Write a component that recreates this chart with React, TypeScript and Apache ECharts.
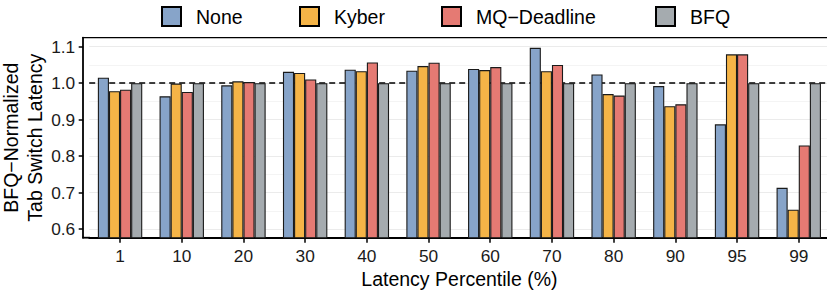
import React, { useEffect, useRef } from "react";
import * as echarts from "echarts";

const categories = ["1", "10", "20", "30", "40", "50", "60", "70", "80", "90", "95", "99"];
const seriesNames = ["None", "Kyber", "MQ\u2212Deadline", "BFQ"];
const noneValues = [1.015, 0.964, 0.994, 1.031, 1.037, 1.034, 1.039, 1.097, 1.024, 0.992, 0.887, 0.713];
const kyberValues = [0.978, 0.999, 1.005, 1.028, 1.033, 1.047, 1.036, 1.033, 0.970, 0.937, 1.079, 0.653];
const mqValues = [0.982, 0.976, 1.003, 1.010, 1.057, 1.056, 1.044, 1.050, 0.966, 0.942, 1.079, 0.829];
const bfqValues = [1, 1, 1, 1, 1, 1, 1, 1, 1, 1, 1, 1];
const colors = ["#87A4C9", "#F5B447", "#E57A73", "#A5ABAF"];
const majorTicks = [0.6, 0.7, 0.8, 0.9, 1.0, 1.1];
const minorTicks = [0.65, 0.75, 0.85, 0.95, 1.05];
const referenceLine = [1.0];
const yMin = 0.5761;
const yMax = 1.1247;

const FONT = "Liberation Sans";

export default function App() {
  const ref = useRef<HTMLDivElement>(null);
  useEffect(() => {
    if (!ref.current) return;
    const chart = echarts.init(ref.current, undefined, { renderer: "svg" });
    const allValues = [noneValues, kyberValues, mqValues, bfqValues];
    const legendLefts = [161, 299, 441, 655];
    const hiddenAxis = (vals: number[], lineStyle: any) => ({
      type: "value",
      min: yMin,
      max: yMax,
      position: "left",
      offset: 6,
      axisLine: { show: false },
      axisLabel: { show: false },
      axisTick: { show: false, customValues: vals },
      splitLine: { show: true, lineStyle },
    });
    chart.setOption({
      animation: false,
      backgroundColor: "#ffffff",
      textStyle: { fontFamily: FONT },
      grid: {
        left: 89.2,
        right: -2.6,
        top: 37.7,
        bottom: 54.3,
        containLabel: false,
        outerBoundsMode: "none",
      },
      legend: seriesNames.map((n, i) => ({
        data: [n],
        left: legendLefts[i],
        top: 6,
        padding: 0,
        itemWidth: 19,
        itemHeight: 19,
        icon: "rect",
        selectedMode: false,
        itemStyle: { borderColor: "#000000", borderWidth: 2 },
        textStyle: { fontFamily: FONT, fontSize: 19.5, color: "#000000", padding: [0, 0, 0, 10] },
      })),
      xAxis: {
        type: "category",
        data: categories,
        axisLine: { show: true, lineStyle: { color: "#000000", width: 1.8 } },
        axisTick: { show: true, alignWithLabel: true, length: 5, lineStyle: { color: "#000000", width: 1.5 } },
        axisLabel: { fontFamily: FONT, fontSize: 17.3, color: "#1a1a1a", margin: 9.5 },
        name: "Latency Percentile (%)",
        nameLocation: "middle",
        nameGap: 31.5,
        nameMoveOverlap: false,
        nameTextStyle: { fontFamily: FONT, fontSize: 19.5, color: "#000000" },
        splitLine: { show: false },
      },
      yAxis: [
        {
          type: "value",
          min: yMin,
          max: yMax,
          position: "left",
          offset: 6,
          axisLine: { show: true, lineStyle: { color: "#000000", width: 1.8 } },
          axisTick: { show: true, length: 4.5, customValues: majorTicks, lineStyle: { color: "#000000", width: 1.5 } },
          axisLabel: {
            customValues: majorTicks,
            formatter: (v: number) => v.toFixed(1),
            fontFamily: FONT,
            fontSize: 17.3,
            color: "#1a1a1a",
            margin: 8,
          },
          splitLine: { show: true, lineStyle: { color: "#EBEBEB", width: 1.1 } },
          name: "BFQ\u2212Normalized\nTab Switch Latency",
          nameLocation: "middle",
          nameRotate: 90,
          nameGap: 36,
          nameMoveOverlap: false,
          nameTextStyle: { fontFamily: FONT, fontSize: 19.5, color: "#000000", lineHeight: 24 },
        },
        hiddenAxis(minorTicks, { color: "#F4F4F4", width: 1 }),
        hiddenAxis(referenceLine, { color: "#000000", width: 1.5, type: [6, 4] }),
      ],
      graphic: [
        { type: "line", shape: { x1: 82.3, y1: 37.7, x2: 827, y2: 37.7 }, style: { stroke: "#000000", lineWidth: 1.2 }, z: 10 },
        { type: "line", shape: { x1: 82.3, y1: 237.7, x2: 90, y2: 237.7 }, style: { stroke: "#000000", lineWidth: 1.8 }, z: 10 },
      ],
      series: seriesNames.map((n, i) => ({
        name: n,
        type: "bar",
        yAxisIndex: 0,
        data: allValues[i],
        barWidth: 11.1,
        barGap: "0%",
        itemStyle: { color: colors[i], borderColor: "#1a1a1a", borderWidth: 1.1 },
      })),
    });
    return () => chart.dispose();
  }, []);
  return <div ref={ref} style={{ width: 827, height: 292, position: "absolute", left: 0, top: 0 }} />;
}
